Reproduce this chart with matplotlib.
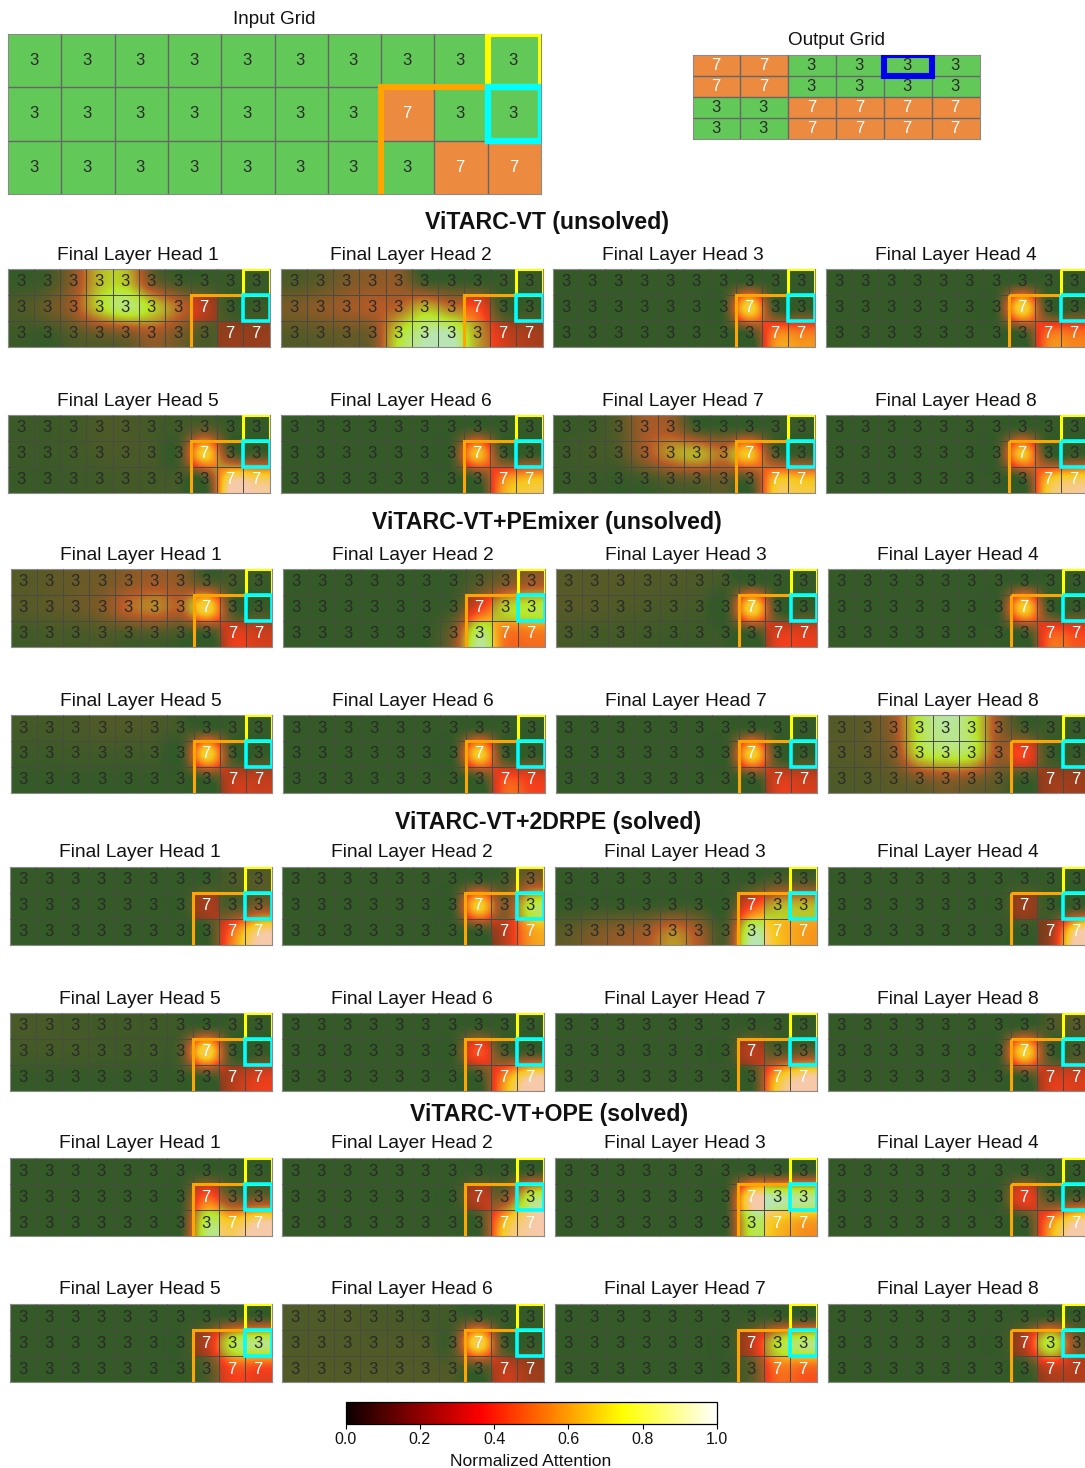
# -*- coding: utf-8 -*-
import numpy as np
import matplotlib
matplotlib.use('Agg')
import matplotlib.pyplot as plt
from matplotlib.colors import ListedColormap
from matplotlib.patches import Rectangle

plt.rcParams['font.family'] = ['Liberation Sans', 'DejaVu Sans']

W, H = 1085, 1468

input_grid = [[3, 3, 3, 3, 3, 3, 3, 3, 3, 3],
              [3, 3, 3, 3, 3, 3, 3, 7, 3, 3],
              [3, 3, 3, 3, 3, 3, 3, 3, 7, 7]]
output_grid = [[7, 7, 3, 3, 3, 3],
               [7, 7, 3, 3, 3, 3],
               [3, 3, 7, 7, 7, 7],
               [3, 3, 7, 7, 7, 7]]

vt_attn = [
    [[.02, .05, .25, .62, .66, .20, .05, .03, .02, .02],
     [.08, .15, .30, .68, .88, .70, .42, .20, .02, .02],
     [.03, .02, .10, .15, .20, .30, .20, .08, .10, .10]],
    [[.08, .12, .20, .25, .25, .05, .03, .02, .02, .02],
     [.20, .25, .30, .35, .40, .62, .45, .40, .03, .02],
     [.10, .12, .15, .20, .72, .95, .97, .55, .25, .15]],
    [[.01, .01, .01, .01, .01, .01, .01, .02, .01, .01],
     [.01, .01, .01, .01, .01, .01, .03, .82, .03, .01],
     [.01, .01, .01, .01, .01, .01, .01, .02, .54, .54]],
    [[.01, .01, .01, .01, .01, .01, .01, .02, .01, .01],
     [.01, .01, .01, .01, .01, .01, .03, .82, .03, .01],
     [.01, .01, .01, .01, .01, .01, .01, .02, .50, .50]],
    [[.03, .03, .04, .07, .07, .05, .04, .12, .02, .01],
     [.03, .03, .04, .06, .07, .06, .05, .78, .12, .06],
     [.02, .02, .03, .04, .05, .05, .05, .04, .92, .88]],
    [[.01, .01, .01, .01, .01, .01, .01, .04, .01, .01],
     [.01, .01, .01, .01, .01, .01, .04, .72, .04, .01],
     [.01, .01, .01, .01, .01, .01, .01, .02, .58, .72]],
    [[.02, .03, .10, .30, .30, .05, .03, .03, .02, .02],
     [.03, .05, .08, .30, .52, .60, .45, .74, .10, .02],
     [.02, .02, .01, .04, .10, .12, .15, .08, .72, .72]],
    [[.01, .01, .01, .01, .01, .01, .01, .03, .01, .01],
     [.01, .01, .01, .01, .01, .01, .03, .74, .03, .01],
     [.01, .01, .01, .01, .01, .01, .01, .02, .72, .85]],
]

pemixer_attn = [
    [[.10, .12, .15, .18, .25, .30, .25, .10, .05, .02],
     [.10, .12, .15, .22, .40, .48, .40, .82, .05, .02],
     [.04, .06, .06, .08, .07, .08, .05, .01, .30, .25]],
    [[.01, .01, .01, .01, .01, .01, .02, .10, .20, .30],
     [.01, .01, .01, .01, .01, .01, .05, .35, .68, .78],
     [.01, .01, .01, .01, .01, .01, .20, .88, .52, .52]],
    [[.10, .10, .10, .09, .08, .07, .04, .01, .01, .01],
     [.10, .10, .08, .07, .06, .05, .03, .82, .02, .01],
     [.06, .05, .05, .04, .03, .03, .02, .01, .30, .30]],
    [[.01, .01, .01, .01, .01, .01, .01, .02, .01, .01],
     [.01, .01, .01, .01, .01, .01, .02, .78, .02, .01],
     [.01, .01, .01, .01, .01, .01, .01, .01, .44, .38]],
    [[.05, .05, .06, .08, .08, .07, .04, .02, .02, .01],
     [.03, .03, .04, .04, .04, .04, .03, .80, .03, .01],
     [.01, .01, .01, .01, .01, .01, .01, .01, .22, .22]],
    [[.01, .01, .01, .01, .01, .01, .01, .02, .01, .01],
     [.01, .01, .01, .01, .01, .01, .02, .78, .02, .01],
     [.01, .01, .01, .01, .01, .01, .01, .01, .42, .34]],
    [[.01, .01, .01, .01, .01, .01, .01, .02, .01, .01],
     [.01, .01, .01, .01, .01, .01, .02, .78, .02, .01],
     [.01, .01, .01, .01, .01, .01, .01, .01, .28, .25]],
    [[.10, .13, .28, .78, .95, .80, .28, .05, .03, .01],
     [.10, .12, .22, .72, .82, .78, .30, .38, .03, .01],
     [.08, .09, .12, .18, .25, .20, .12, .01, .12, .12]],
]

rpe2d_attn = [
    [[.01, .01, .01, .01, .01, .01, .01, .01, .07, .10],
     [.01, .01, .01, .01, .01, .01, .01, .15, .07, .20],
     [.01, .01, .01, .01, .01, .01, .01, .01, .50, .92]],
    [[.01, .01, .01, .01, .01, .01, .01, .03, .05, .22],
     [.01, .01, .01, .01, .01, .01, .02, .78, .22, .78],
     [.01, .01, .01, .01, .01, .01, .01, .01, .20, .62]],
    [[.01, .01, .01, .01, .01, .01, .01, .01, .08, .08],
     [.01, .02, .02, .02, .04, .03, .01, .38, .60, .62],
     [.12, .20, .25, .30, .48, .30, .08, .92, .72, .62]],
    [[.01, .01, .01, .01, .01, .01, .01, .01, .01, .01],
     [.01, .01, .01, .01, .01, .01, .01, .12, .01, .01],
     [.01, .01, .01, .01, .01, .01, .01, .01, .12, .95]],
    [[.06, .06, .05, .04, .04, .04, .03, .02, .02, .01],
     [.05, .05, .05, .04, .04, .04, .10, .85, .03, .01],
     [.01, .01, .01, .01, .01, .01, .01, .01, .17, .30]],
    [[.01, .01, .01, .01, .01, .01, .01, .01, .01, .01],
     [.01, .01, .01, .01, .01, .01, .01, .42, .08, .04],
     [.01, .01, .01, .01, .01, .01, .01, .01, .58, .97]],
    [[.01, .01, .01, .01, .01, .01, .01, .01, .01, .01],
     [.01, .01, .01, .01, .01, .01, .01, .20, .10, .15],
     [.01, .01, .01, .01, .01, .01, .01, .02, .72, .98]],
    [[.01, .01, .01, .01, .01, .01, .01, .01, .07, .10],
     [.01, .01, .01, .01, .01, .01, .02, .80, .05, .06],
     [.01, .01, .01, .01, .01, .01, .01, .01, .27, .27]],
]

ope_attn = [
    [[.01, .01, .01, .01, .01, .01, .01, .01, .01, .01],
     [.01, .01, .01, .01, .01, .01, .01, .45, .15, .15],
     [.01, .01, .01, .01, .01, .01, .01, .82, .78, .97]],
    [[.01, .01, .01, .01, .01, .01, .01, .01, .01, .03],
     [.01, .01, .01, .01, .01, .01, .01, .20, .22, .80],
     [.01, .01, .01, .01, .01, .01, .01, .03, .72, .97]],
    [[.01, .01, .01, .01, .01, .01, .01, .01, .01, .03],
     [.01, .01, .01, .01, .01, .01, .01, .93, .95, .92],
     [.01, .01, .01, .01, .01, .01, .01, .80, .72, .62]],
    [[.01, .01, .01, .01, .01, .01, .01, .01, .01, .01],
     [.01, .01, .01, .01, .01, .01, .01, .35, .07, .07],
     [.01, .01, .01, .01, .01, .01, .01, .01, .58, .97]],
    [[.01, .01, .01, .01, .01, .01, .01, .01, .02, .02],
     [.01, .01, .01, .01, .01, .01, .01, .20, .78, .90],
     [.01, .01, .01, .01, .01, .01, .01, .08, .40, .38]],
    [[.08, .08, .08, .07, .06, .05, .04, .03, .01, .01],
     [.08, .08, .08, .08, .08, .08, .08, .85, .05, .01],
     [.09, .09, .09, .09, .09, .09, .08, .06, .22, .12]],
    [[.01, .01, .01, .01, .01, .01, .01, .01, .01, .01],
     [.01, .01, .01, .01, .01, .01, .01, .20, .72, .88],
     [.01, .01, .01, .01, .01, .01, .01, .12, .50, .47]],
    [[.01, .01, .01, .01, .01, .01, .01, .01, .01, .01],
     [.01, .01, .01, .01, .01, .01, .01, .20, .80, .20],
     [.01, .01, .01, .01, .01, .01, .01, .01, .22, .18]],
]

section_titles = ['ViTARC-VT (unsolved)', 'ViTARC-VT+PEmixer (unsolved)',
                  'ViTARC-VT+2DRPE (solved)', 'ViTARC-VT+OPE (solved)']
cbar_ticks = [0.0, 0.2, 0.4, 0.6, 0.8, 1.0]

GREEN, ORANGE = '#62c958', '#ec8b40'
grid_cmap = ListedColormap([GREEN, ORANGE])

fig = plt.figure(figsize=(W / 100, H / 100), dpi=100)


def px_axes(x0, y0, x1, y1):
    ax = fig.add_axes([x0 / W, 1 - y1 / H, (x1 - x0) / W, (y1 - y0) / H])
    ax.set_xticks([]); ax.set_yticks([])
    for s in ax.spines.values():
        s.set_color('#8a8a8a'); s.set_linewidth(0.8)
    return ax


def px_text(x, y, s, **kw):
    fig.text(x / W, 1 - y / H, s, ha='center', va='center', color='#111111', **kw)


def draw_grid(ax, grid, fontsize=12, linecolor='#666666', lw=0.9):
    g = np.array(grid)
    rows, cols = g.shape
    ax.imshow(g == 7, cmap=grid_cmap, vmin=0, vmax=1, aspect='auto',
              extent=(0, cols, rows, 0), interpolation='nearest')
    ax.vlines(range(1, cols), 0, rows, color=linecolor, linewidth=lw, zorder=3)
    ax.hlines(range(1, rows), 0, cols, color=linecolor, linewidth=lw, zorder=3)
    for r in range(rows):
        for c in range(cols):
            ax.text(c + 0.48, r + 0.5, str(g[r, c]), ha='center', va='center',
                    fontsize=fontsize, zorder=6,
                    color='white' if g[r, c] == 7 else '#2a2a2a')
    ax.set_xlim(0, cols); ax.set_ylim(rows, 0)


def draw_boxes(ax, lw, cyan_lw):
    ax.add_patch(Rectangle((7, 1), 4, 3, fill=False, edgecolor='orange', linewidth=lw, zorder=7))
    ax.add_patch(Rectangle((9, 0), 1, 1, fill=False, edgecolor='yellow', linewidth=lw, zorder=8))
    ax.add_patch(Rectangle((9, 1), 1, 1, fill=False, edgecolor='cyan', linewidth=cyan_lw, zorder=9))


# top grids
ax_in = px_axes(8, 34, 541, 194)
draw_grid(ax_in, input_grid, fontsize=12, lw=1.0)
draw_boxes(ax_in, 4.4, 4.6)
px_text(274, 19.5, 'Input Grid', fontsize=13.6)

ax_out = px_axes(692.5, 55, 980, 139)
draw_grid(ax_out, output_grid, fontsize=12, lw=1.0)
ax_out.add_patch(Rectangle((4, 0), 1, 1, fill=False, edgecolor='#0000ee', linewidth=4.4, zorder=8))
px_text(836, 40.5, 'Output Grid', fontsize=13.6)

# attention panels: one block per model
blocks = [
    (vt_attn, [8, 281, 553, 826], 269, 415, 255, 401, 547, 222),
    (pemixer_attn, [10.5, 283, 555.5, 828], 569, 715, 555, 701, 547, 522),
    (rpe2d_attn, [10, 282, 555, 828], 867, 1013, 853, 999, 548, 822),
    (ope_attn, [10, 282, 555, 828], 1158, 1304, 1144, 1290, 549, 1115),
]
for title, (attn, xs, y1, y2, ty1, ty2, tx, ty) in zip(section_titles, blocks):
    px_text(tx, ty, title, fontsize=16.7, weight='bold')
    for i in range(8):
        x0 = xs[i % 4]
        y0 = y1 if i < 4 else y2
        tity = ty1 if i < 4 else ty2
        ax = px_axes(x0, y0, x0 + 261.5, y0 + 78)
        draw_grid(ax, input_grid, fontsize=12, linecolor='#4a4a42', lw=0.7)
        ax.imshow(attn[i], cmap='hot', vmin=0, vmax=1, alpha=0.55, aspect='auto',
                  extent=(0, 10, 3, 0), interpolation='catrom', zorder=2)
        ax.set_xlim(0, 10); ax.set_ylim(3, 0)
        draw_boxes(ax, 2.2, 2.6)
        px_text(x0 + 130, tity, f'Final Layer Head {i + 1}', fontsize=13.8)

# colorbar
cax = fig.add_axes([345.5 / W, 1 - 1424 / H, 371.5 / W, 22 / H])
sm = plt.cm.ScalarMappable(cmap='hot', norm=plt.Normalize(0, 1))
cb = fig.colorbar(sm, cax=cax, orientation='horizontal', ticks=cbar_ticks)
cb.ax.tick_params(labelsize=11.5, length=3.5, width=0.8, pad=2, labelcolor='#111111')
cb.outline.set_linewidth(0.9)
px_text(531, 1461, 'Normalized Attention', fontsize=12.6)

fig.savefig('out.png', dpi=100)
